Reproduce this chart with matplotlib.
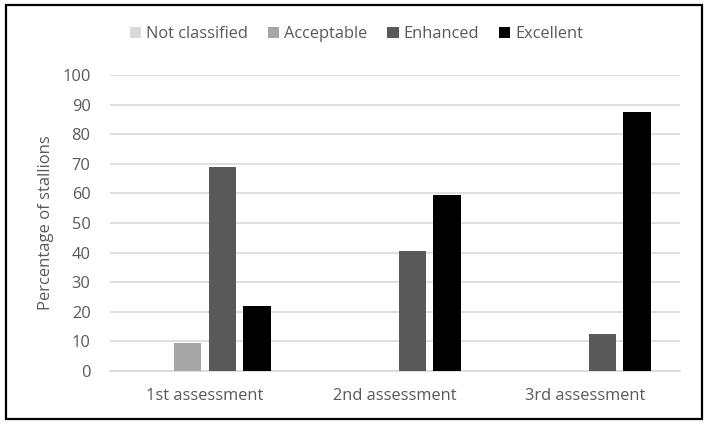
import matplotlib.pyplot as plt
from matplotlib.patches import Rectangle
import numpy as np

categories = ['1st assessment', '2nd assessment', '3rd assessment']
series = ['Not classified', 'Acceptable', 'Enhanced', 'Excellent']
not_classified = [0, 0, 0]
acceptable = [9.4, 0, 0]
enhanced = [68.8, 40.6, 12.5]
excellent = [21.9, 59.4, 87.5]
colors = ['#d9d9d9', '#a6a6a6', '#595959', '#000000']

plt.rcParams['font.family'] = ['Open Sans', 'DejaVu Sans']

fig = plt.figure(figsize=(7.13, 4.29), dpi=100)
W, H = 713, 429
ax = fig.add_axes([110 / W, 1 - 371 / H, (680 - 110) / W, (371 - 75) / H])

x = np.arange(len(categories))
width = 0.145
step = 0.183
values = [not_classified, acceptable, enhanced, excellent]
for i, (name, vals, col) in enumerate(zip(series, values, colors)):
    ax.bar(x + (i - 1.5) * step, vals, width, color=col, label=name, zorder=3)

ax.set_xlim(-0.5, 2.5)
ax.set_ylim(0, 100)
ax.set_yticks(range(0, 101, 10))
ax.set_xticks(x)
ax.set_xticklabels(categories)
ax.grid(axis='y', color='#d9d9d9', linewidth=1.2, zorder=0)
for s in ['top', 'right', 'left']:
    ax.spines[s].set_visible(False)
ax.spines['bottom'].set_color('#d9d9d9')
ax.spines['bottom'].set_linewidth(1.2)
ax.tick_params(length=0, colors='#595959', labelsize=11.8)
ax.tick_params(axis='x', pad=12)
ax.tick_params(axis='y', pad=14)
ax.set_ylabel('Percentage of stallions', fontsize=12, color='#595959', labelpad=6)

fig.legend(loc='center', bbox_to_anchor=(0.5, 1 - 34 / H), ncol=4, frameon=False,
           fontsize=11.8, labelcolor='#595959', handlelength=0.7, handleheight=0.7,
           handletextpad=0.3, columnspacing=1.2)

fig.patches.append(Rectangle((6 / W, 1 - 419 / H), (702 - 6) / W, (419 - 5) / H,
                             transform=fig.transFigure, fill=False,
                             edgecolor='black', linewidth=1.6))

fig.savefig('out.png', dpi=100)
